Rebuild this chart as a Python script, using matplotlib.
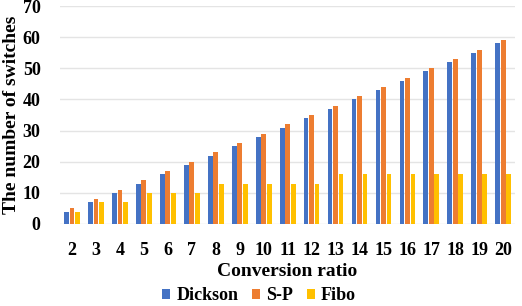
import matplotlib.pyplot as plt
import numpy as np

ratios = list(range(2, 21))
dickson = [4, 7, 10, 13, 16, 19, 22, 25, 28, 31, 34, 37, 40, 43, 46, 49, 52, 55, 58]
sp = [5, 8, 11, 14, 17, 20, 23, 26, 29, 32, 35, 38, 41, 44, 47, 50, 53, 56, 59]
fibo = [4, 7, 7, 10, 10, 10, 13, 13, 13, 13, 13, 16, 16, 16, 16, 16, 16, 16, 16]

plt.rcParams['font.family'] = ['Liberation Serif', 'DejaVu Serif']
plt.rcParams['font.weight'] = 'bold'

fig = plt.figure(figsize=(5.22, 3.06), dpi=100)
ax = fig.add_axes([0.115, 0.268, 0.872, 0.712])

x = np.arange(len(ratios))
step = 0.23
w = 0.2
ax.bar(x - step, dickson, w, color='#4472C4', label='Dickson')
ax.bar(x, sp, w, color='#ED7D31', label='S-P')
ax.bar(x + step, fibo, w, color='#FFC000', label='Fibo')

ax.set_ylim(0, 70)
ax.set_xlim(-0.5, len(ratios) - 0.5)
ax.set_yticks(range(0, 71, 10))
ax.set_xticks(x)
ax.set_xticklabels(ratios)
ax.tick_params(axis='both', length=0, labelsize=13)
ax.tick_params(axis='x', pad=13)
ax.tick_params(axis='y', pad=14)
for lbl in ax.get_xticklabels() + ax.get_yticklabels():
    lbl.set_fontweight('bold')
ax.grid(axis='y', color='#e4e4e4', linewidth=1)
ax.set_axisbelow(True)
for s in ax.spines.values():
    s.set_visible(False)

ax.set_xlabel('Conversion ratio', fontsize=14, fontweight='bold', labelpad=3)
ax.set_ylabel('The number of switches', fontsize=14, fontweight='bold', labelpad=2)

ax.legend(loc='center', bbox_to_anchor=(0.437, -0.33), ncol=3, frameon=False,
          handlelength=0.45, handleheight=0.45, handletextpad=0.35,
          columnspacing=0.75, prop={'weight': 'bold', 'size': 13})

fig.savefig('out.png', dpi=100)
